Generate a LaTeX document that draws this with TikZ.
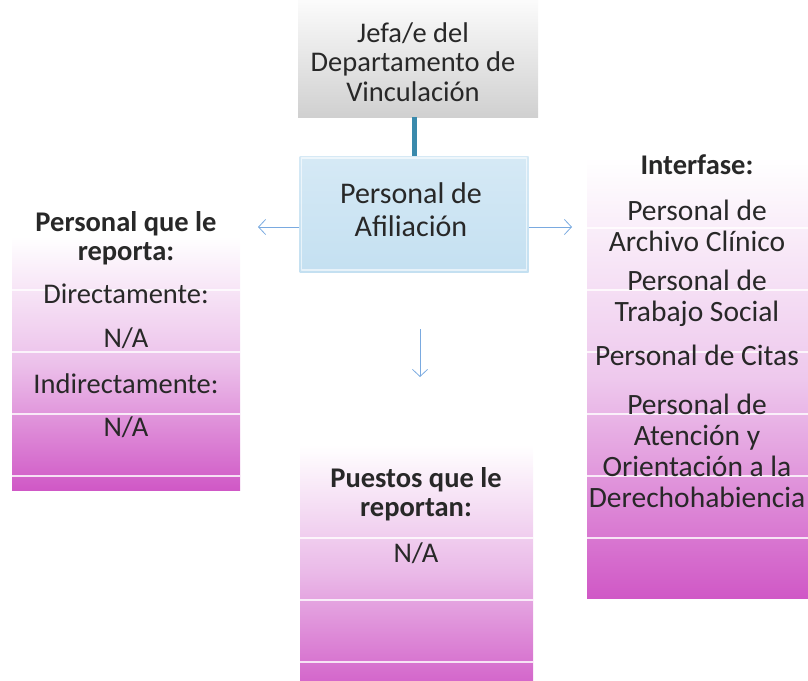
\documentclass[tikz,border=0pt]{standalone}
\usepackage{fontspec}
\setmainfont{Carlito}
\usepackage{tikz}
\usetikzlibrary{calc,arrows.meta,positioning}
\definecolor{pinktop}{RGB}{248,238,250}
\definecolor{pinkbot}{RGB}{208,88,198}
\definecolor{boxgray}{RGB}{208,208,208}
\definecolor{boxblue}{RGB}{196,224,241}
\definecolor{linkteal}{RGB}{58,138,172}
\definecolor{arrowblue}{RGB}{122,170,224}
\definecolor{txt}{RGB}{40,40,40}

\begin{document}
\begin{tikzpicture}[x=1pt, y=-1pt, line join=round,
  lbl/.style={align=center, text=txt, font=\fontsize{28.5}{29.5}\selectfont, inner sep=0pt},
  hdr/.style={lbl, font=\fontsize{28.5}{29.5}\selectfont\bfseries},
  rlbl/.style={lbl, font=\fontsize{29.5}{31}\selectfont},
  sep/.style={white, line width=1.2pt, opacity=0.8},
  thin arrow/.style={arrowblue, line width=0.8pt, -{Straight Barb[length=7pt,width=15pt]}}]
\useasboundingbox (0,0) rectangle (808,680);
% top: head of department
\shade[top color=white, bottom color=boxgray] (298,-10) rectangle (538,117);
\node[minimum width=240pt, minimum height=127pt] (jefe) at (418,53.5) {};
\node[lbl] (jefetxt) at (413,62) {Jefa/e del\\Departamento de\\Vinculación};
% center: position
\shade[top color=boxblue!70, bottom color=boxblue] (299.5,156) rectangle (528.5,272);
\draw[white, line width=1.5pt, opacity=0.6] (301.5,158) rectangle (526.5,270);
\node[minimum width=229pt, minimum height=116pt] (afil) at (414,214) {};
\node[lbl, font=\fontsize{30}{33}\selectfont] (afiltxt) at (411,210) {Personal de\\Afiliación};
\draw[linkteal, line width=5pt] (afil.north |- jefe.south) -- (afil.north);
% arrows
\coordinate (leftend) at (258,227);
\coordinate (rightend) at (572,227);
\coordinate (downtop) at (420,329);
\coordinate (downend) at (420,377);
\draw[thin arrow] (afil.west |- leftend) -- (leftend);
\draw[thin arrow] (afil.east |- rightend) -- (rightend);
\draw[thin arrow] (downtop) -- (downend);
% left: reporting staff
\shade[top color=white, bottom color=pinkbot, middle color=pinktop!70!pinkbot] (12,236) rectangle (240,490);
\foreach \y in {290,352,414,476} \draw[sep] (12,\y) -- (240,\y);
\node[hdr] (rephead) at (126,238) {Personal que le\\reporta:};
\node[lbl] (direct) at (126,294) {Directamente:};
\node[lbl] (directna) at (126,338) {N/A};
\node[lbl] (indirect) at (126,384) {Indirectamente:};
\node[lbl] (indirectna) at (126,427) {N/A};
% right: interface
\shade[top color=white, bottom color=pinkbot, middle color=pinktop!75!pinkbot] (587,158) rectangle (815,598);
\foreach \y in {228,290,352,414,476,538} \draw[sep] (587,\y) -- (815,\y);
\node[hdr] (interhead) at (697,165) {Interfase:};
\node[rlbl] (archivo) at (697,226) {Personal de\\Archivo Clínico};
\node[rlbl] (social) at (697,298) {Personal de\\Trabajo Social};
\node[rlbl] (citas) at (697,355) {Personal de Citas};
\node[rlbl] (atencion) at (697,451) {Personal de\\Atención y\\Orientación a la\\Derechohabiencia};
% bottom: subordinate posts
\shade[top color=white, bottom color=pinkbot, middle color=pinktop!65!pinkbot] (300,445) rectangle (533,700);
\foreach \y in {538,600,662} \draw[sep] (300,\y) -- (533,\y);
\node[hdr] (puestos) at (416,494) {Puestos que le\\reportan:};
\node[lbl] (puestosna) at (416,553) {N/A};
\end{tikzpicture}
\end{document}
